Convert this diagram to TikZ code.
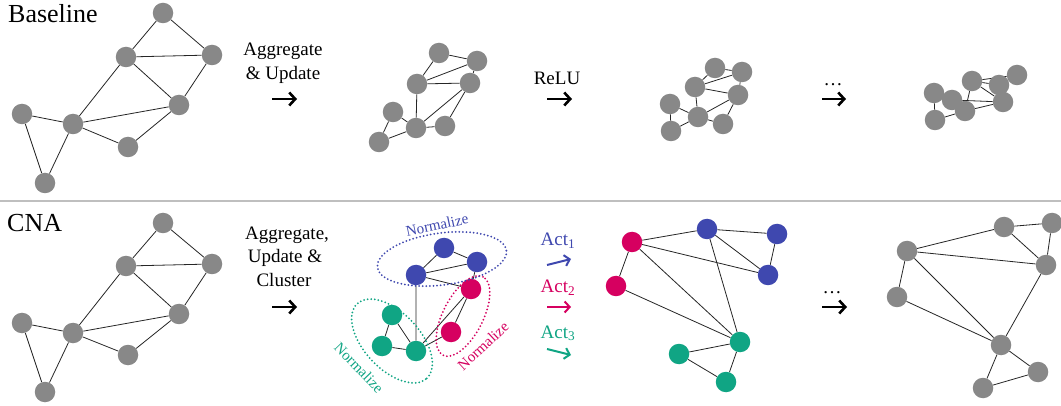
\documentclass[tikz,border=0pt]{standalone}
\usepackage{fontspec}
\setmainfont{Liberation Serif}
\usetikzlibrary{arrows.meta,backgrounds}
\pgfdeclarelayer{canvasbg}
\pgfsetlayers{canvasbg,background,main}
\definecolor{ngray}{RGB}{136,136,136}
\definecolor{cblue}{RGB}{63,72,175}
\definecolor{cred}{RGB}{214,0,96}
\definecolor{cgreen}{RGB}{16,165,132}
\newcommand{\gedges}[1]{%
  \begin{pgfonlayer}{background}
  \draw[lnk] (#1A)--(#1B) (#1A)--(#1C) (#1B)--(#1C) (#1B)--(#1D) (#1C)--(#1D)
    (#1B)--(#1F) (#1D)--(#1F) (#1F)--(#1E) (#1F)--(#1G) (#1G)--(#1D)
    (#1E)--(#1H) (#1F)--(#1H);
  \end{pgfonlayer}}
\newcommand{\ggraph}[9]{%
  \node[vtx] (#1A) at (#2) {};
  \node[vtx] (#1B) at (#3) {};
  \node[vtx] (#1C) at (#4) {};
  \node[vtx] (#1D) at (#5) {};
  \node[vtx] (#1E) at (#6) {};
  \node[vtx] (#1F) at (#7) {};
  \node[vtx] (#1G) at (#8) {};
  \node[vtx] (#1H) at (#9) {};
  \gedges{#1}}
\begin{document}
\begin{tikzpicture}[x=1pt,y=-1pt,
  vtx/.style={circle,fill=#1,minimum size=20.5pt,inner sep=0pt},
  vtx/.default=ngray,
  lnk/.style={line width=0.8pt,black!85},
  lbl/.style={font=\fontsize{19}{22}\selectfont,anchor=base,inner sep=0pt},
  ttl/.style={font=\fontsize{26}{30}\selectfont,anchor=base west,inner sep=0pt},
  bigarrow/.style={line width=2.6pt,-{Straight Barb[length=6pt,width=13pt]}},
  actarrow/.style={line width=2pt,#1,-{Straight Barb[length=5pt,width=11pt]}},
  nlz/.style={font=\fontsize{15}{18}\selectfont,inner sep=0pt,#1},
  grp/.style={line width=2pt,line cap=round,dash pattern=on 0pt off 3.6pt,#1}]
\useasboundingbox (0,0) rectangle (1061,406);
\begin{pgfonlayer}{canvasbg}
\fill[white] (0,0) rectangle (1061,406);
\end{pgfonlayer}
% separator
\coordinate (sepL) at (0,201);
\coordinate (sepR) at (1061,201);
\draw[black!25,line width=1.5pt] (sepL) -- (sepR);
% titles
\node[ttl] (tBase) at (8,23) {Baseline};
\node[ttl] (tCNA) at (7,232) {CNA};
% ---------- Baseline row ----------
\ggraph{p}{163,13}{126,57}{212,55}{179,105}{22,114}{73,124}{128,147}{45,183}
\node[lbl] (l1a) at (283,56) {Aggregate};
\node[lbl] (l1b) at (283,80) {\& Update};
\coordinate (a1s) at (272,99); \coordinate (a1e) at (297,99);
\draw[bigarrow] (a1s) -- (a1e);
\ggraph{r}{439,53}{417,84}{477,61}{470,83}{393,112}{416,128}{445,126}{379,142}
\node[lbl] (l2) at (557,85) {ReLU};
\coordinate (a2s) at (547,99); \coordinate (a2e) at (572,99);
\draw[bigarrow] (a2s) -- (a2e);
\ggraph{s}{715,68}{695,87}{742,72}{738,95}{670,104}{698,117}{723,124}{671,131}
\node[lbl] (l3) at (833,86) {\ldots};
\coordinate (a3s) at (822,99); \coordinate (a3e) at (846,99);
\draw[bigarrow] (a3s) -- (a3e);
\ggraph{t}{1017,75}{972,81}{999,85}{1003,102}{934,93}{965,111}{952,100}{935,120}
% ---------- CNA row ----------
\ggraph{q}{163,223}{126,266}{212,264}{179,314}{22,323}{73,333}{128,355}{45,392}
\node[lbl] (m1a) at (287,240) {Aggregate,};
\node[lbl] (m1b) at (285,263) {Update \&};
\node[lbl] (m1c) at (284,287) {Cluster};
\coordinate (b1s) at (272,307); \coordinate (b1e) at (297,307);
\draw[bigarrow] (b1s) -- (b1e);
% clustered graph
\node[vtx=cblue] (wA) at (444,248) {};
\node[vtx=cblue] (wC) at (477,262) {};
\node[vtx=cblue] (wB) at (416,275) {};
\node[vtx=cred] (wD) at (471,289) {};
\node[vtx=cred] (wG) at (451,332) {};
\node[vtx=cgreen] (wE) at (392,315) {};
\node[vtx=cgreen] (wH) at (382,346) {};
\node[vtx=cgreen] (wF) at (416,351) {};
\gedges{w}
\coordinate (eB) at (442,259);
\coordinate (eR) at (463,316);
\coordinate (eG) at (392,341);
\draw[grp=cgreen,rotate around={-47:(eG)}] (eG) ellipse [x radius=51pt,y radius=28pt];
\draw[grp=cred,rotate around={63:(eR)}] (eR) ellipse [x radius=44pt,y radius=20pt];
\draw[grp=cblue,rotate around={7.5:(eB)}] (eB) ellipse [x radius=65pt,y radius=26pt];
\node[nlz=cblue,rotate=12] (nB) at (437,225) {Normalize};
\node[nlz=cred,rotate=43] (nR) at (483,346) {Normalize};
\node[nlz=cgreen,rotate=-46] (nG) at (359,368) {Normalize};
% act labels
\node[lbl,text=cblue] (act1) at (558,246) {Act\textsubscript{1}};
\node[lbl,text=cred] (act2) at (558,293) {Act\textsubscript{2}};
\node[lbl,text=cgreen] (act3) at (558,338) {Act\textsubscript{3}};
\coordinate (c1s) at (547,265); \coordinate (c1e) at (571,259);
\coordinate (c2s) at (547,307); \coordinate (c2e) at (571,307);
\coordinate (c3s) at (547,349); \coordinate (c3e) at (571,355);
\draw[actarrow=cblue] (c1s) -- (c1e);
\draw[actarrow=cred] (c2s) -- (c2e);
\draw[actarrow=cgreen] (c3s) -- (c3e);
% activated graph
\node[vtx=cred] (uD) at (632,242) {};
\node[vtx=cred] (uG) at (616,286) {};
\node[vtx=cblue] (uB) at (707,229) {};
\node[vtx=cblue] (uA) at (777,234) {};
\node[vtx=cblue] (uC) at (768,275) {};
\node[vtx=cgreen] (uF) at (740,342) {};
\node[vtx=cgreen] (uE) at (679,354) {};
\node[vtx=cgreen] (uH) at (726,382) {};
\gedges{u}
\node[lbl] (m2) at (832,294) {\ldots};
\coordinate (b2s) at (822,307); \coordinate (b2e) at (847,307);
\draw[bigarrow] (b2s) -- (b2e);
\ggraph{v}{1052,223}{1046,265}{1004,227}{907,251}{1038,372}{1001,345}{897,297}{983,388}
\end{tikzpicture}
\end{document}
